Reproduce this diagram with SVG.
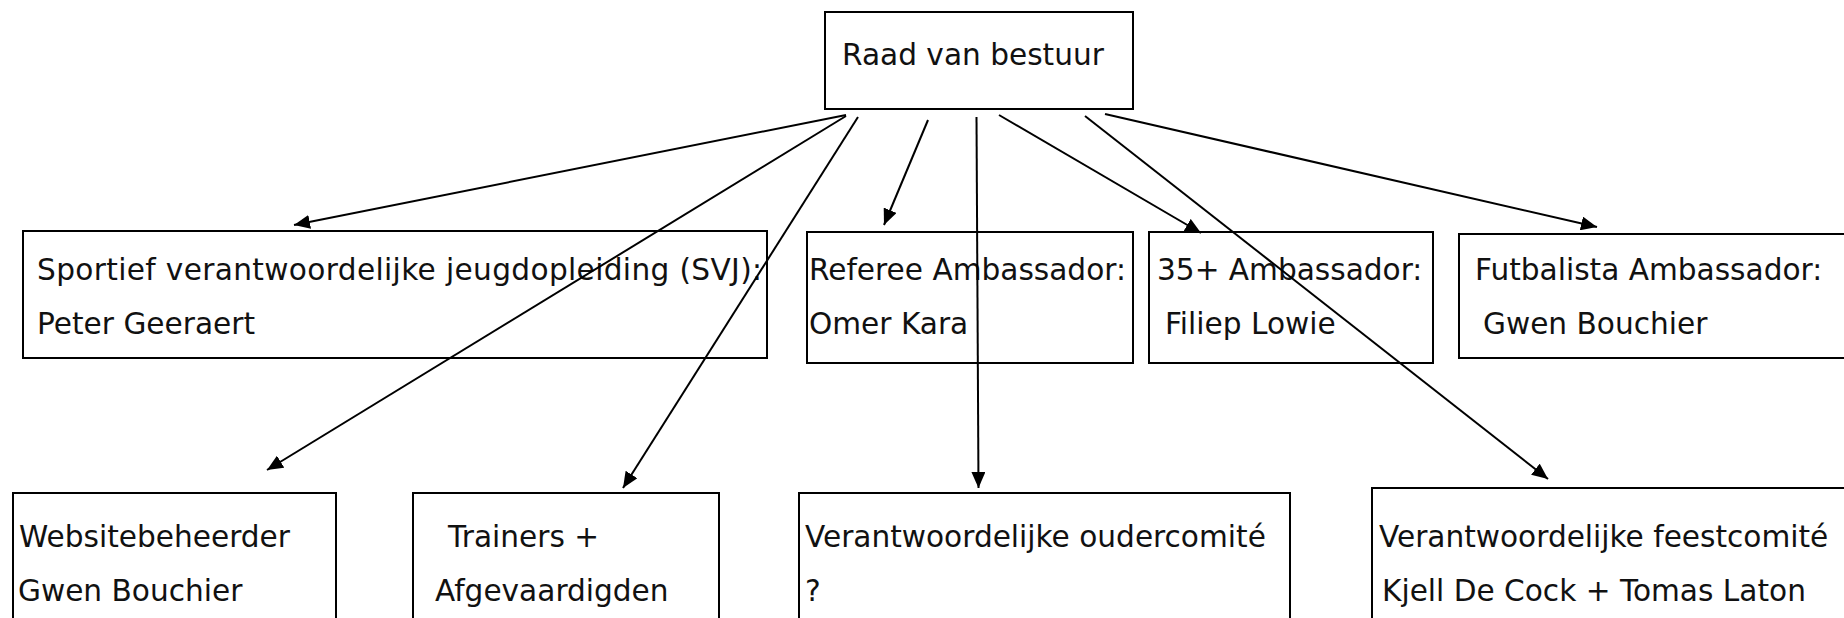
<svg xmlns="http://www.w3.org/2000/svg" width="1844" height="618" viewBox="0 0 1844 618">
<style>
.box{fill:#fff;stroke:#000;stroke-width:2}
.t{font-family:"DejaVu Sans",Verdana,sans-serif;font-size:29.6px;fill:#111}
.c{fill:none;stroke:#000;stroke-width:2}
</style>
<defs>
<marker id="ah" markerUnits="userSpaceOnUse" markerWidth="18" markerHeight="14" refX="16" refY="7" orient="auto">
<path d="M0,0 L16,7 L0,14 Z" fill="#000"/>
</marker>
</defs>
<rect width="1844" height="618" fill="#fff"/>
<g id="raad">
<rect class="box" x="825" y="12" width="308" height="97"/>
<text class="t" x="842" y="65">Raad van bestuur</text>
</g>
<g id="svj">
<rect class="box" x="23" y="231" width="744" height="127"/>
<text class="t" x="37" y="280" textLength="725" lengthAdjust="spacing">Sportief verantwoordelijke jeugdopleiding (SVJ):</text>
<text class="t" x="37" y="334">Peter Geeraert</text>
</g>
<g id="referee">
<rect class="box" x="807" y="232" width="326" height="131"/>
<text class="t" x="809" y="280">Referee Ambassador:</text>
<text class="t" x="809" y="334">Omer Kara</text>
</g>
<g id="plus35">
<rect class="box" x="1149" y="232" width="284" height="131"/>
<text class="t" x="1157" y="280">35+ Ambassador:</text>
<text class="t" x="1165" y="334">Filiep Lowie</text>
</g>
<g id="futbalista">
<rect class="box" x="1459" y="234" width="400" height="124"/>
<text class="t" x="1475" y="280">Futbalista Ambassador:</text>
<text class="t" x="1483" y="334">Gwen Bouchier</text>
</g>
<g id="website">
<rect class="box" x="13" y="493" width="323" height="140"/>
<text class="t" x="19" y="547">Websitebeheerder</text>
<text class="t" x="18" y="601">Gwen Bouchier</text>
</g>
<g id="trainers">
<rect class="box" x="413" y="493" width="306" height="140"/>
<text class="t" x="448" y="547">Trainers +</text>
<text class="t" x="435" y="601">Afgevaardigden</text>
</g>
<g id="ouder">
<rect class="box" x="799" y="493" width="491" height="140"/>
<text class="t" x="805" y="547">Verantwoordelijke oudercomité</text>
<text class="t" x="805" y="601">?</text>
</g>
<g id="feest">
<rect class="box" x="1372" y="488" width="500" height="145"/>
<text class="t" x="1379" y="547">Verantwoordelijke feestcomité</text>
<text class="t" x="1382" y="601">Kjell De Cock + Tomas Laton</text>
</g>
<g id="connectors">
<line class="c" x1="846" y1="115" x2="294" y2="225" marker-end="url(#ah)"/>
<line class="c" x1="846" y1="116" x2="267" y2="470" marker-end="url(#ah)"/>
<line class="c" x1="858" y1="117" x2="623" y2="488" marker-end="url(#ah)"/>
<line class="c" x1="928" y1="120" x2="884" y2="225" marker-end="url(#ah)"/>
<line class="c" x1="976.5" y1="117" x2="978.5" y2="488" marker-end="url(#ah)"/>
<line class="c" x1="999" y1="115" x2="1201" y2="233" marker-end="url(#ah)"/>
<line class="c" x1="1085" y1="116" x2="1548" y2="479" marker-end="url(#ah)"/>
<line class="c" x1="1105" y1="114" x2="1597" y2="227" marker-end="url(#ah)"/>
</g>
</svg>
